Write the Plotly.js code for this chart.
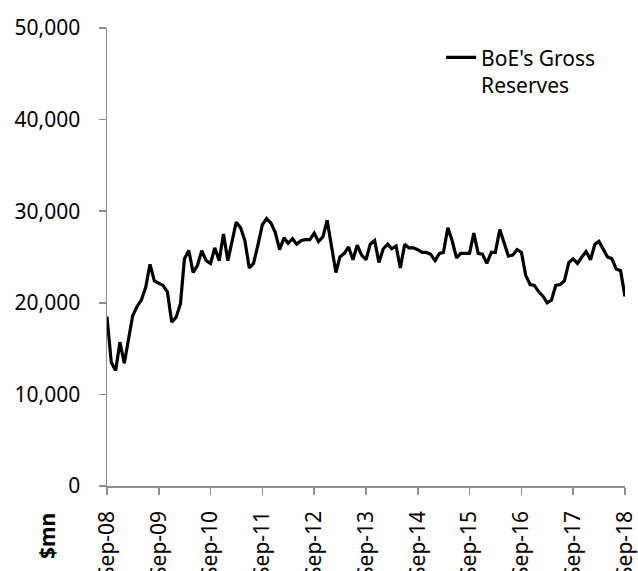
<!DOCTYPE html>
<html>
<head>
<meta charset="utf-8">
<script src="https://cdn.plot.ly/plotly-3.0.1.min.js"></script>
<style>
  html, body { margin: 0; padding: 0; background: #fff; }
  #chart { width: 638px; height: 571px; }
</style>
</head>
<body>
<div id="chart"></div>
<script>
// Monthly observations, Sep-2008 to Sep-2018
const startYear = 2008;
const startMonth = 9;
const seriesName = "BoE's Gross<br>Reserves";
const reserves = [
  18500, 13500, 12600, 15700,
  13400, 15900, 18600, 19600, 20300, 21700, 24200, 22400, 22100, 21900, 21200, 17900,
  18400, 19900, 24800, 25700, 23300, 24100, 25700, 24600, 24300, 26000, 24600, 27500,
  24600, 26800, 28800, 28200, 26800, 23800, 24300, 26300, 28500, 29200, 28700, 27700,
  25800, 27100, 26500, 27000, 26400, 26800, 26900, 26900, 27600, 26700, 27200, 29000,
  26100, 23300, 25000, 25400, 26100, 24700, 26300, 25200, 24700, 26400, 26800, 24400,
  25900, 26400, 25900, 26200, 23800, 26400, 26000, 26000, 25800, 25500, 25500, 25300,
  24600, 25400, 25500, 28200, 26800, 24900, 25400, 25400, 25400, 27600, 25400, 25300,
  24300, 25500, 25500, 28000, 26600, 25100, 25200, 25800, 25500, 23000, 22000, 21900,
  21200, 20700, 20000, 20300, 21900, 22000, 22400, 24400, 24800, 24300, 25000, 25600,
  24700, 26400, 26700, 25900, 25000, 24800, 23700, 23500, 20700
];
const tickDates = ["2008-09-01","2009-09-01","2010-09-01","2011-09-01","2012-09-01","2013-09-01",
                   "2014-09-01","2015-09-01","2016-09-01","2017-09-01","2018-09-01"];
const tickLabels = ["Sep-08","Sep-09","Sep-10","Sep-11","Sep-12","Sep-13",
                    "Sep-14","Sep-15","Sep-16","Sep-17","Sep-18"];
const yTicks = [0, 10000, 20000, 30000, 40000, 50000];
const yLabels = ["0","10,000","20,000","30,000","40,000","50,000"];
const unitLabel = "$mn";

const dates = reserves.map((_, i) => {
  const m0 = startMonth - 1 + i;
  const y = startYear + Math.floor(m0 / 12);
  const m = (m0 % 12) + 1;
  return y + "-" + String(m).padStart(2, "0") + "-01";
});

const FONT = "Noto Sans, Open Sans, DejaVu Sans, sans-serif";
const AXIS = "#8c8c8c";

const trace = {
  x: dates,
  y: reserves,
  type: "scatter",
  mode: "lines",
  name: seriesName,
  line: { color: "#000000", width: 3.2 },
  hoverinfo: "x+y"
};

const layout = {
  width: 638,
  height: 571,
  margin: { l: 107, r: 13, t: 28, b: 85 },
  paper_bgcolor: "#ffffff",
  plot_bgcolor: "#ffffff",
  font: { family: FONT, size: 21, color: "#000000" },
  showlegend: true,
  legend: {
    x: 0.645, y: 0.98, xanchor: "left", yanchor: "top",
    valign: "top",
    bgcolor: "rgba(0,0,0,0)",
    font: { family: FONT, size: 21, color: "#000000" }
  },
  xaxis: {
    type: "date",
    range: [dates[0], dates[dates.length - 1]],
    tickmode: "array",
    tickvals: tickDates,
    ticktext: tickLabels,
    tickangle: -90,
    ticks: "outside",
    ticklen: 7,
    tickwidth: 1.5,
    tickcolor: AXIS,
    ticklabelstandoff: 8,
    showline: true,
    linecolor: AXIS,
    linewidth: 1.5,
    showgrid: false,
    zeroline: false,
    tickfont: { family: FONT, size: 21, color: "#000000" }
  },
  yaxis: {
    range: [0, 50000],
    tickmode: "array",
    tickvals: yTicks,
    ticktext: yLabels,
    ticks: "outside",
    ticklen: 7,
    tickwidth: 1.5,
    tickcolor: AXIS,
    ticklabelstandoff: 14,
    showline: true,
    linecolor: AXIS,
    linewidth: 1.5,
    showgrid: false,
    zeroline: false,
    tickfont: { family: FONT, size: 21, color: "#000000" }
  },
  annotations: [{
    text: "<b>" + unitLabel + "</b>",
    xref: "paper", yref: "paper",
    x: -0.116, y: -0.055,
    xanchor: "center", yanchor: "top",
    textangle: -90,
    showarrow: false,
    font: { family: FONT, size: 21, color: "#000000" }
  }]
};

Plotly.newPlot("chart", [trace], layout, { displayModeBar: false, staticPlot: true });
</script>
</body>
</html>
